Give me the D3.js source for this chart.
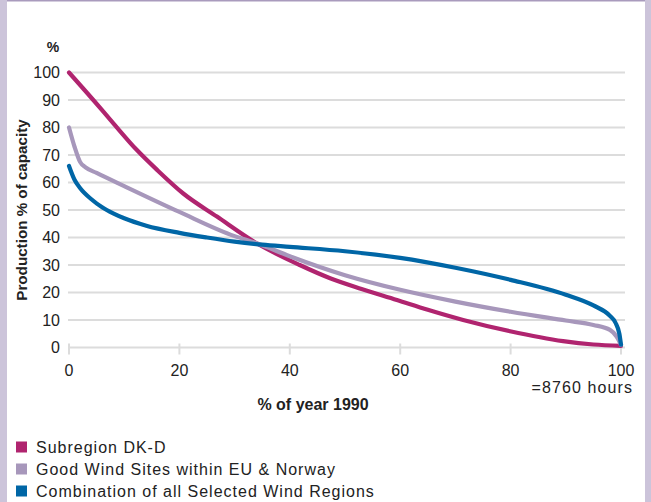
<!DOCTYPE html>
<html>
<head>
<meta charset="utf-8">
<script src="https://cdn.jsdelivr.net/npm/d3@7"></script>
<style>
html,body{margin:0;padding:0;background:#ccc4da;}
svg{display:block;}
text{font-family:"Liberation Sans",Arial,sans-serif;fill:#222;}
</style>
</head>
<body>
<svg id="chart" width="651" height="502"></svg>
<script>
const xTicks = [0, 20, 40, 60, 80, 100];
const yTicks = [0, 10, 20, 30, 40, 50, 60, 70, 80, 90, 100];

const seriesNames = [
  "Subregion DK-D",
  "Good Wind Sites within EU & Norway",
  "Combination of all Selected Wind Regions"
];
const seriesColors = ["#b0246f", "#a797bb", "#0066a6"];

const dkdX = [0, 4.4, 8, 12.3, 16, 20.7, 26.8, 34, 41.8, 47.3, 53, 59.4, 65, 71.4, 79.9, 89.5, 95, 100];
const dkdY = [100, 90, 81.6, 71.8, 64.5, 56, 47.6, 37.9, 30, 25.2, 21.3, 17.3, 13.7, 10, 5.9, 2.3, 1.1, 0.6];

const goodX = [0, 1, 2, 3, 5, 10, 20, 30, 34, 40, 50, 60, 70, 80, 90, 95, 98, 99.2, 100];
const goodY = [80, 73, 67.5, 65.5, 63.5, 58.7, 49.3, 40.5, 37.9, 33.2, 26.3, 21, 16.7, 13, 9.8, 8.2, 6.4, 4, 1];

const combX = [0, 1, 2, 4, 6, 8, 10, 14, 20, 25, 30, 35, 40, 50, 60, 70, 80, 90, 95, 98, 99, 99.7, 100];
const combY = [66, 61, 58, 54, 51, 48.8, 47, 44.3, 41.7, 40, 38.5, 37.4, 36.6, 35, 32.6, 29, 24.6, 19.2, 15.3, 11.5, 9, 5, 1];

const series = [
  {name: seriesNames[0], color: seriesColors[0], xs: dkdX, ys: dkdY},
  {name: seriesNames[1], color: seriesColors[1], xs: goodX, ys: goodY},
  {name: seriesNames[2], color: seriesColors[2], xs: combX, ys: combY}
];

const svg = d3.select("#chart");

// white panel
svg.append("rect").attr("x", 7).attr("y", 0).attr("width", 638).attr("height", 502).attr("fill", "#fff");
svg.append("rect").attr("x", 7).attr("y", 0).attr("width", 638).attr("height", 1.5).attr("fill", "#a99bbd");

const x = d3.scaleLinear().domain([0, 100]).range([69, 621]);
const y = d3.scaleLinear().domain([0, 100]).range([347.5, 72.5]);

// gridlines
svg.append("g").selectAll("line").data(yTicks).join("line")
  .attr("x1", 68).attr("x2", 625)
  .attr("y1", d => y(d)).attr("y2", d => y(d))
  .attr("stroke", "#dcdcdc").attr("stroke-width", 2);

// x tick marks
svg.append("g").selectAll("line").data(xTicks).join("line")
  .attr("x1", d => x(d)).attr("x2", d => x(d))
  .attr("y1", y(0) - 4).attr("y2", y(0) + 7)
  .attr("stroke", "#dcdcdc").attr("stroke-width", 2);

// y tick labels
svg.append("g").selectAll("text").data(yTicks).join("text")
  .attr("x", 60).attr("y", d => y(d)).attr("dy", "0.36em")
  .attr("text-anchor", "end").attr("font-size", 16)
  .text(d => d);

// x tick labels
svg.append("g").selectAll("text").data(xTicks).join("text")
  .attr("x", d => x(d)).attr("y", 376)
  .attr("text-anchor", "middle").attr("font-size", 16)
  .text(d => d);

svg.append("text").attr("x", 633).attr("y", 393).attr("text-anchor", "end")
  .attr("font-size", 16).attr("letter-spacing", 1.1).text("=8760 hours");

svg.append("text").attr("x", 313).attr("y", 410).attr("text-anchor", "middle")
  .attr("font-size", 16).attr("font-weight", "bold").text("% of year 1990");

svg.append("text").attr("x", 53).attr("y", 52).attr("text-anchor", "middle")
  .attr("font-size", 14).attr("font-weight", "bold").text("%");

svg.append("text").attr("transform", "translate(27,210) rotate(-90)")
  .attr("text-anchor", "middle").attr("font-size", 15.2).attr("font-weight", "bold")
  .text("Production % of capacity");

// lines
const line = d3.line().x(d => x(d[0])).y(d => y(d[1])).curve(d3.curveMonotoneX);
svg.append("g").selectAll("path").data(series).join("path")
  .attr("d", s => line(s.xs.map((v, i) => [v, s.ys[i]])))
  .attr("fill", "none").attr("stroke", s => s.color)
  .attr("stroke-width", 4.2).attr("stroke-linecap", "round").attr("stroke-linejoin", "round");

// legend
const lg = svg.append("g").selectAll("g").data(series).join("g")
  .attr("transform", (d, i) => `translate(0,${447 + i * 22})`);
lg.append("rect").attr("x", 16).attr("y", -5.5).attr("width", 11).attr("height", 11)
  .attr("fill", d => d.color);
lg.append("text").attr("x", 36).attr("y", 0).attr("dy", "0.36em")
  .attr("font-size", 16).attr("letter-spacing", 1).text(d => d.name);
</script>
</body>
</html>
